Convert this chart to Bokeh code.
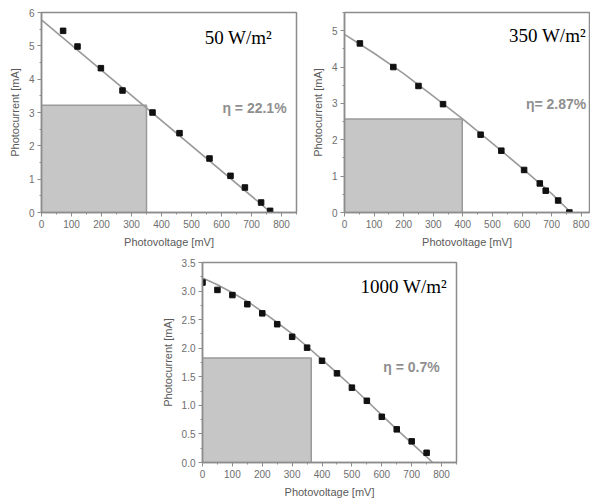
from bokeh.plotting import figure
from bokeh.layouts import column, row, Spacer
from bokeh.models import SingleIntervalTicker, Range1d, NumeralTickFormatter
from bokeh.core.properties import value
from bokeh.embed import file_html
from bokeh.resources import INLINE

# ---- data ----
# 50 W/m2
v50 = [72, 120, 198, 270, 370, 460, 560, 630, 678, 732, 762]
i50 = [5.45, 4.98, 4.33, 3.66, 3.0, 2.38, 1.62, 1.1, 0.75, 0.3, 0.05]
fit_v50 = [0, 765]
fit_i50 = [5.78, 0.0]
mpp_v50 = 350
mpp_i50 = 3.22
label50 = "50 W/m²"
eta50 = "η = 22.1%"

# 350 W/m2
v350 = [52, 165, 250, 333, 460, 530, 607, 660, 680, 722, 760]
i350 = [4.65, 4.0, 3.48, 2.98, 2.14, 1.7, 1.17, 0.8, 0.6, 0.33, 0.0]
fit_v350 = [0, 100, 200, 300, 400, 500, 600, 700, 765]
fit_i350 = [4.90, 4.38, 3.82, 3.20, 2.57, 1.90, 1.22, 0.52, 0.0]
mpp_v350 = 398
mpp_i350 = 2.57
label350 = "350 W/m²"
eta350 = "η= 2.87%"

# 1000 W/m2
v1000 = [0, 50, 100, 150, 200, 250, 300, 350, 400, 450, 500, 550, 600, 650, 700, 750]
i1000 = [3.15, 3.02, 2.93, 2.77, 2.61, 2.42, 2.2, 2.01, 1.78, 1.56, 1.31, 1.08, 0.8, 0.58, 0.37, 0.17]
fit_v1000 = [0, 50, 100, 150, 200, 250, 300, 350, 400, 450, 500, 550, 600, 650, 700, 750, 770]
fit_i1000 = [3.23, 3.11, 2.97, 2.82, 2.64, 2.45, 2.25, 2.03, 1.80, 1.57, 1.33, 1.08, 0.83, 0.58, 0.34, 0.10, 0.0]
mpp_v1000 = 364
mpp_i1000 = 1.83
label1000 = "1000 W/m²"
eta1000 = "η = 0.7%"

x_title = "Photovoltage [mV]"
y_title = "Photocurrent [mA]"

GRAY = "#8c8c8c"
TICK_GRAY = "#6e6e6e"


def panel(v, i, fv, fi, mv, mi, label, label_xy, eta, eta_xy, xmax, ymax, yint,
          fw, fh, bl, bt, br, bb, yfmt):
    p = figure(frame_width=fw, frame_height=fh, output_backend="svg", toolbar_location=None,
               x_range=Range1d(0, xmax), y_range=Range1d(0, ymax),
               min_border_left=bl, min_border_top=bt, min_border_right=br, min_border_bottom=bb)
    p.background_fill_color = "white"
    p.border_fill_color = "white"
    p.outline_line_color = GRAY
    p.outline_line_width = 1.5
    p.xgrid.visible = False
    p.ygrid.visible = False
    p.xaxis.ticker = SingleIntervalTicker(interval=100, num_minor_ticks=2)
    p.yaxis.ticker = SingleIntervalTicker(interval=yint, num_minor_ticks=2)
    if yfmt:
        p.yaxis.formatter = NumeralTickFormatter(format=yfmt)
    for ax in (p.xaxis[0], p.yaxis[0]):
        ax.axis_line_color = GRAY
        ax.axis_line_width = 1.5
        ax.major_tick_line_color = GRAY
        ax.minor_tick_line_color = GRAY
        ax.major_tick_out = 4
        ax.major_tick_in = 0
        ax.minor_tick_out = 2
        ax.minor_tick_in = 0
        ax.major_label_text_font = "Liberation Sans"
        ax.major_label_text_font_size = "10px"
        ax.major_label_text_color = TICK_GRAY
        ax.major_label_standoff = 3
        ax.axis_label_text_font = "Liberation Sans"
        ax.axis_label_text_font_size = "11px"
        ax.axis_label_text_font_style = "normal"
        ax.axis_label_text_color = "#5a5a5a"
        ax.axis_label_standoff = 5
    p.xaxis.axis_label = x_title
    p.yaxis.axis_label = y_title

    p.quad(left=[0], right=[mv], bottom=[0], top=[mi], fill_color="#c6c6c6",
           line_color="#9a9a9a", line_width=1.5)
    p.line(fv, fi, line_color="#9a9a9a", line_width=1.6)
    p.scatter(v, i, marker="square", size=5.5, color="#111111")
    p.text(x=[label_xy[0]], y=[label_xy[1]], text=[label], text_font=value("Liberation Serif"),
           text_font_size="19px", text_color="black", text_baseline="alphabetic")
    p.text(x=[eta_xy[0]], y=[eta_xy[1]], text=[eta], text_font=value("Liberation Sans"),
           text_font_size="14px", text_font_style="bold", text_color="#8f8f8f",
           text_baseline="alphabetic")
    return p


p1 = panel(v50, i50, fit_v50, fit_i50, mpp_v50, mpp_i50, label50, (544, 5.25), eta50, (603, 3.15),
           850, 6, 1, 255, 200, 41, 12, 8, 40, None)
p2 = panel(v350, i350, fit_v350, fit_i350, mpp_v350, mpp_i350, label350, (556, 4.87), eta350, (613, 2.99),
           828, 5.5, 1, 245, 200, 40, 12, 1, 40, None)
p3 = panel(v1000, i1000, fit_v1000, fit_i1000, mpp_v1000, mpp_i1000, label1000, (529, 3.08), eta1000, (605, 1.68),
           850, 3.5, 0.5, 254, 200, 45, 10, 10, 37, "0.0")

layout = column(row(p1, p2), row(Spacer(width=157, height=10), p3))

open("out.html", "w").write(file_html(layout, INLINE))
